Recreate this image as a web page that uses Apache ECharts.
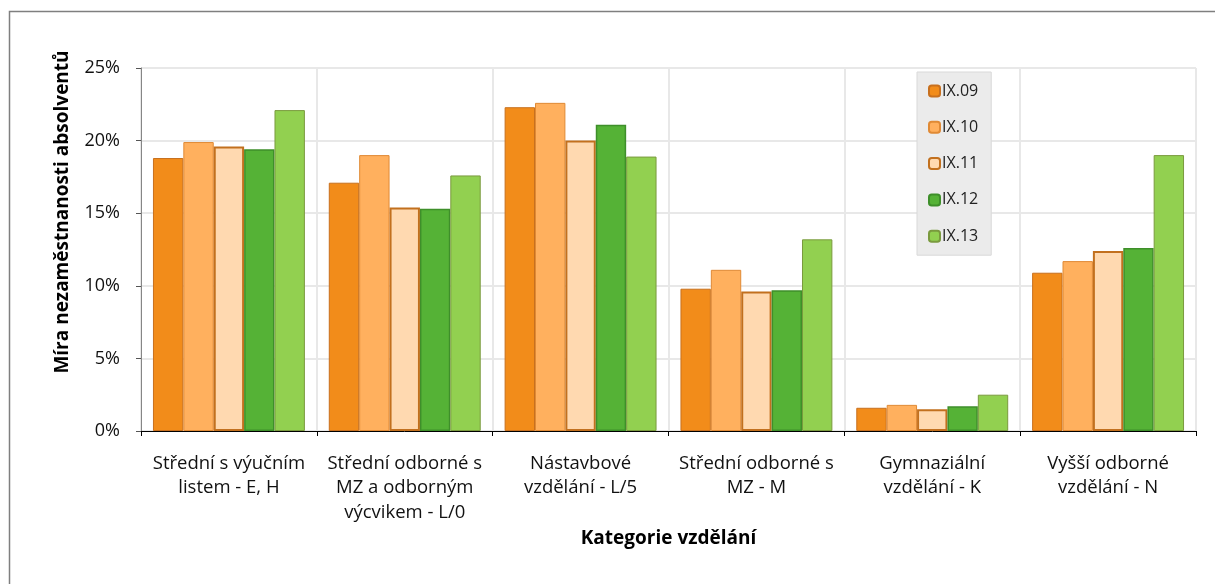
<!DOCTYPE html>
<html>
<head>
<meta charset="utf-8">
<script src="https://cdn.jsdelivr.net/npm/echarts@6/dist/echarts.min.js"></script>
<style>
  html, body { margin: 0; padding: 0; background: #fff; }
  #chart { width: 1215px; height: 584px; }
</style>
</head>
<body>
<div id="chart"></div>
<script>
// kategorie vzdělání
var categories = [
  'Střední s výučním\nlistem - E, H',
  'Střední odborné s\nMZ a odborným\nvýcvikem - L/0',
  'Nástavbové\nvzdělání - L/5',
  'Střední odborné s\nMZ - M',
  'Gymnaziální\nvzdělání - K',
  'Vyšší odborné\nvzdělání - N'
];
var seriesNames = ['IX.09', 'IX.10', 'IX.11', 'IX.12', 'IX.13'];
// míra nezaměstnanosti v %
var ix09 = [18.8, 17.1, 22.3, 9.8, 1.6, 10.9];
var ix10 = [19.9, 19.0, 22.6, 11.1, 1.8, 11.7];
var ix11 = [19.6, 15.4, 20.0, 9.6, 1.5, 12.4];
var ix12 = [19.4, 15.3, 21.1, 9.7, 1.7, 12.6];
var ix13 = [22.1, 17.6, 18.9, 13.2, 2.5, 19.0];
var yTicks = [0, 5, 10, 15, 20, 25];

var fills = ['#F28C1A', '#FFB05E', '#FFD9B0', '#55B236', '#92D050'];
var borders = ['#C8701E', '#E08A35', '#C2701E', '#3E8F2A', '#7A9A3E'];
var borderW = [1, 1, 2, 1.5, 1];
var values = [ix09, ix10, ix11, ix12, ix13];

var font = '"Open Sans", "Noto Sans", sans-serif';
var chart = echarts.init(document.getElementById('chart'));

var series = seriesNames.map(function (name, i) {
  return {
    name: name,
    type: 'bar',
    data: values[i],
    barGap: '0%',
    barCategoryGap: '13.6%',
    itemStyle: { color: fills[i], borderColor: borders[i], borderWidth: borderW[i] }
  };
});

chart.setOption({
  animation: false,
  textStyle: { fontFamily: font },
  grid: { left: 141, right: 19, top: 68, bottom: 153 },
  legend: {
    orient: 'vertical',
    left: 917,
    top: 72,
    padding: [11, 13, 11, 11],
    itemGap: 20.3,
    itemWidth: 11,
    itemHeight: 11,
    backgroundColor: '#EBEBEB',
    borderColor: '#D9D9D9',
    borderWidth: 1,
    textStyle: { fontFamily: font, fontSize: 16, lineHeight: 16, color: '#222', padding: [0, 0, 0, -3] },
    data: seriesNames
  },
  xAxis: {
    type: 'category',
    data: categories,
    name: 'Kategorie vzdělání',
    nameLocation: 'middle',
    nameGap: 98,
    nameTextStyle: { fontFamily: font, fontSize: 19, fontWeight: 'bold', color: '#000' },
    axisLine: { lineStyle: { color: '#000', width: 1 } },
    axisTick: { show: true, length: 5, lineStyle: { color: '#000' } },
    axisLabel: { fontFamily: font, fontSize: 18.5, color: '#111', margin: 20, lineHeight: 24.5, interval: 0 },
    splitLine: { show: true, lineStyle: { color: '#E8E8E8', width: 2 } }
  },
  yAxis: {
    type: 'value',
    min: yTicks[0],
    max: yTicks[yTicks.length - 1],
    interval: 5,
    axisLine: { show: true, lineStyle: { color: '#868686', width: 1 } },
    axisTick: { show: true, length: 5, lineStyle: { color: '#555' } },
    axisLabel: { fontFamily: font, fontSize: 18, color: '#111', margin: 21, formatter: '{value}%' },
    splitLine: { show: true, lineStyle: { color: '#E8E8E8', width: 2 } }
  },
  graphic: [
    {
      type: 'rect',
      silent: true,
      shape: { x: 9.5, y: 11.5, width: 1300, height: 700 },
      style: { fill: 'none', stroke: '#7F7F7F', lineWidth: 1.5 }
    },
    {
      type: 'text',
      x: 63,
      y: 212,
      rotation: Math.PI / 2,
      style: {
        text: 'Míra nezaměstnanosti absolventů',
        font: 'bold 19px ' + font,
        fill: '#000',
        align: 'center',
        verticalAlign: 'middle'
      }
    }
  ],
  series: series
});
</script>
</body>
</html>
